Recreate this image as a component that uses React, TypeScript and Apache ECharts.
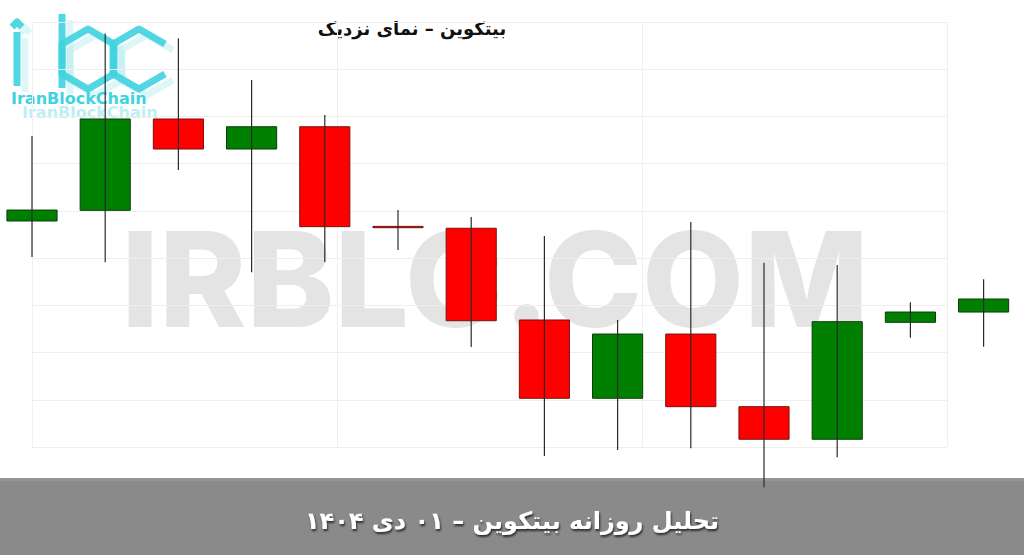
import React, { useEffect, useRef } from "react";
import * as echarts from "echarts";

const categories = [
  "۱۸ آذر", "۱۹ آذر", "۲۰ آذر", "۲۱ آذر", "۲۲ آذر", "۲۳ آذر", "۲۴ آذر",
  "۲۵ آذر", "۲۶ آذر", "۲۷ آذر", "۲۸ آذر", "۲۹ آذر", "۳۰ آذر", "۰۱ دی",
];
const opens = [86393, 86506, 87473, 87155, 87391, 86336, 86316, 85345, 84516, 85196, 84427, 84082, 85320, 85429];
const closes = [86509, 87473, 87155, 87391, 86333, 86322, 85337, 84516, 85196, 84427, 84082, 85327, 85429, 85567];
const lows = [86012, 85956, 86933, 85850, 85959, 86086, 85059, 83905, 83968, 83986, 83573, 83891, 85157, 85062];
const highs = [87293, 88378, 88327, 87886, 87515, 86509, 86435, 86234, 85345, 86382, 85951, 85927, 85532, 85776];

const yMin = 84000;
const yMax = 88500;
const yStep = 500;

const titleText = "بیتکوین – نمای نزدیک";
const bannerText = "تحلیل روزانه بیتکوین – ۰۱ دی ۱۴۰۴";
const watermarkText = "IRBLC.COM";
const logoText = "IranBlockChain";

function hexPts(cx: number, cy: number, r: number, open = false): number[][] {
  const dx = r * 0.866;
  const pts = [
    [cx + dx, cy - r / 2],
    [cx, cy - r],
    [cx - dx, cy - r / 2],
    [cx - dx, cy + r / 2],
    [cx, cy + r],
    [cx + dx, cy + r / 2],
  ];
  if (!open) pts.push([cx + dx, cy - r / 2]);
  return pts;
}

function logoGroup(ox: number, oy: number, color: string, opacity: number) {
  const lw = 7;
  const st = { stroke: color, lineWidth: lw, fill: "none", opacity, lineJoin: "round" };
  return {
    type: "group",
    x: ox,
    y: oy,
    children: [
      { type: "polyline", shape: { points: [[17, 32], [17, 86]] }, style: st },
      { type: "polyline", shape: { points: [[12, 27], [17, 22], [22, 27]] }, style: st },
      { type: "polyline", shape: { points: [[62, 14], [62, 88]] }, style: st },
      { type: "polyline", shape: { points: hexPts(88, 59, 30) }, style: st },
      { type: "polyline", shape: { points: hexPts(139, 59, 30, true) }, style: st },
    ],
  };
}

export default function App() {
  const ref = useRef<HTMLDivElement>(null);

  useEffect(() => {
    document.body.style.margin = "0";
    if (!ref.current) return;
    const chart = echarts.init(ref.current, undefined, { renderer: "svg" });

    const data = categories.map((_, i) => [i, opens[i], closes[i], lows[i], highs[i]]);

    chart.setOption({
      animation: false,
      backgroundColor: "#ffffff",
      grid: { left: 32, right: 77, top: 22, bottom: 108, containLabel: false },
      xAxis: {
        type: "value",
        min: 0,
        max: 12.5,
        interval: 12.5 / 3,
        axisLine: { show: false },
        axisTick: { show: false },
        axisLabel: { show: false },
        splitLine: { show: true, lineStyle: { color: "#efefef", width: 1 } },
      },
      yAxis: {
        type: "value",
        min: yMin,
        max: yMax,
        interval: yStep,
        axisLine: { show: false },
        axisTick: { show: false },
        axisLabel: { show: false },
        splitLine: { show: true, lineStyle: { color: "#eeeeee", width: 1 } },
      },
      graphic: [
        {
          type: "text",
          z: 0,
          style: {
            text: watermarkText,
            x: 495,
            y: 279,
            textAlign: "center",
            textVerticalAlign: "middle",
            font: "800 132px Inter",
            fill: "#e4e4e4",
          },
        },
        logoGroup(8, 6, "#9fe6ec", 0.35),
        logoGroup(0, 0, "#3fd3df", 0.9),
        {
          type: "text",
          z: 0,
          style: {
            text: logoText,
            x: 22,
            y: 112,
            textVerticalAlign: "middle",
            lineHeight: 12,
            font: "bold 16px 'DejaVu Sans'",
            fill: "#bdeff2",
          },
        },
        {
          type: "text",
          z: 0,
          style: {
            text: logoText,
            x: 11,
            y: 98,
            textVerticalAlign: "middle",
            lineHeight: 12,
            font: "bold 16px 'DejaVu Sans'",
            fill: "#3fd3df",
          },
        },
        {
          type: "text",
          z: 0,
          style: {
            text: titleText,
            x: 412,
            y: 28,
            textAlign: "center",
            textVerticalAlign: "middle",
            font: "bold 18px 'DejaVu Sans'",
            fill: "#111111",
          },
        },
        {
          type: "rect",
          z: 0,
          shape: { x: 0, y: 478, width: 1024, height: 77 },
          style: { fill: "#8a8a8a" },
        },
        {
          type: "rect",
          z: 0,
          shape: { x: 0, y: 478, width: 1024, height: 3 },
          style: { fill: "#969696" },
        },
        {
          type: "text",
          z: 1,
          style: {
            text: bannerText,
            x: 512,
            y: 521,
            textAlign: "center",
            textVerticalAlign: "middle",
            font: "bold 24px 'DejaVu Sans'",
            fill: "#ffffff",
            textShadowColor: "rgba(0,0,0,0.7)",
            textShadowBlur: 2,
            textShadowOffsetX: 1,
            textShadowOffsetY: 2,
          },
        },
      ],
      series: [
        {
          type: "custom",
          z: 5,
          clip: false,
          data,
          renderItem: (params: any, api: any) => {
            const x = api.value(0);
            const o = api.value(1);
            const c = api.value(2);
            const l = api.value(3);
            const h = api.value(4);
            const pO = api.coord([x, o]);
            const pC = api.coord([x, c]);
            const pL = api.coord([x, l]);
            const pH = api.coord([x, h]);
            const w = api.size([1, 0])[0] * 0.685;
            const up = c >= o;
            const top = Math.min(pO[1], pC[1]);
            const bh = Math.max(Math.abs(pO[1] - pC[1]), 1);
            return {
              type: "group",
              children: [
                {
                  type: "rect",
                  shape: { x: pO[0] - w / 2, y: top, width: w, height: bh },
                  style: {
                    fill: up ? "#008000" : "#ff0000",
                    stroke: up ? "#0b3b0b" : "#7a1010",
                    lineWidth: 1,
                  },
                },
                {
                  type: "line",
                  shape: { x1: pH[0], y1: pH[1], x2: pL[0], y2: pL[1] },
                  style: { stroke: "#2a2a2a", lineWidth: 1.2 },
                },
              ],
            };
          },
        },
      ],
    });

    return () => chart.dispose();
  }, []);

  return <div ref={ref} style={{ width: 1024, height: 555 }} />;
}
